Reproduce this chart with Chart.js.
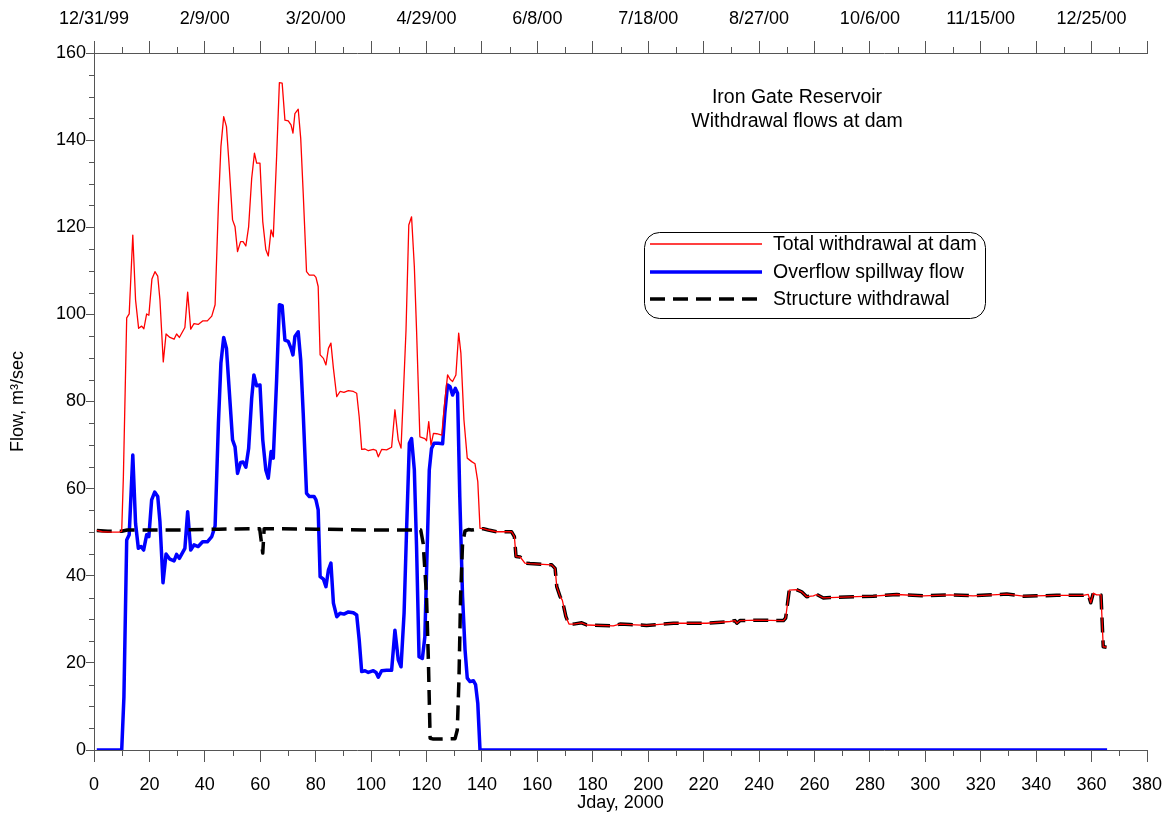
<!DOCTYPE html>
<html>
<head>
<meta charset="utf-8">
<title>Iron Gate Reservoir</title>
<script src="https://cdn.jsdelivr.net/npm/chart.js@4.4.1/dist/chart.umd.min.js"></script>
<style>
html, body { margin: 0; padding: 0; background: #fff; }
#wrap { width: 1167px; height: 822px; }
</style>
</head>
<body>
<div id="wrap"><canvas id="chart" width="1167" height="822"></canvas></div>
<script>
// Jday values (fractional where the line bends between days)
const totalDays = [1,3,6,9,10,10.6,11.8,12.7,14,15,16.1,17.2,18,19,19.8,20.9,22,23,23.8,25,26,27.4,28.9,29.8,30.8,32.8,33.8,34.9,36.1,37.6,39.2,40.9,42.5,43.7,44.9,45.8,46.8,47.8,48.8,50,50.9,51.8,52.9,53.8,54.8,55.8,56.9,57.9,58.7,59.9,60.9,62,62.9,63.9,64.7,65.9,66.9,67.9,68.9,70.1,71.1,71.8,72.5,73.7,74.6,75.5,76.7,77.7,79.4,80.1,80.9,81.6,82.8,83.7,84.6,85.5,86.4,87.6,88.8,90.2,91.8,93.6,94.8,95.7,96.6,97.8,99,100.8,101.8,102.6,103.8,105.6,107.4,108.6,109.8,110.8,111.6,112.6,113.6,114.6,115.6,116.4,117.6,119.4,120,120.8,121.6,122.5,123.7,125.5,126.4,127.6,128.5,129.4,130.6,131.6,132.4,133.5,134.7,136.3,137.5,138.5,139.3];
const totalFlow = [50.4,50.1,50.0,50.0,50.2,62.7,99.2,100.1,118.2,103.3,96.8,97.3,96.7,100.1,99.8,108.1,109.8,108.8,103.3,89.1,95.5,94.7,94.3,95.5,94.7,97.0,105.1,96.6,97.9,97.7,98.5,98.5,99.6,102.2,125.1,138.5,145.4,143.1,133.9,121.7,120.1,114.4,116.7,116.7,115.7,120.1,131.2,137.0,134.7,134.7,121.3,114.9,113.4,119.4,117.8,136.2,153.2,153.1,144.6,144.4,143.5,141.6,146.1,147.1,140.4,127.8,109.8,109.0,109.0,108.5,106.4,90.7,89.9,88.4,92.2,93.4,87.6,81.1,82.3,82.1,82.5,82.3,81.9,76.5,69.0,69.1,68.7,69.0,68.8,67.3,69.0,68.9,69.5,78.1,71.2,69.3,81.1,96.4,120.5,122.4,111.0,96.4,71.9,71.5,71.0,75.4,70.0,72.7,72.6,72.3,78.8,86.1,85.1,84.6,86.1,95.7,91.1,75.8,67.0,66.2,65.7,61.6,50.9];

// after day 140 the structure carries the whole withdrawal: both lines follow this part
const tailDays = [140.5,142.3,145.3,150.7,151.7,152.3,153.8,155.5,157.3,165.2,166.4,167,168.2,169,170.3,171.4,173,176,177.8,187.4,189.8,193.4,199.4,205.4,209.1,221.1,229.5,231.3,232,233.1,239.1,248.8,249.6,250.9,253.5,255.4,257.2,259.6,260.8,263.2,265.6,275.2,281.2,289.7,299.3,308.9,317.3,329.4,335.4,347.4,357,358.8,359.7,360.6,361.8,363.4,364.2,365.4];
const tailFlow = [50.8,50.5,50.1,50.1,49.0,44.4,44.3,42.9,42.8,42.5,41.7,37.5,35.2,34.4,30.6,28.9,28.9,29.2,28.7,28.5,28.9,28.8,28.6,28.9,29.1,29.1,29.5,29.7,29.1,29.7,29.8,29.7,30.3,36.7,36.8,36.3,35.2,35.4,35.7,34.9,35.0,35.2,35.3,35.7,35.4,35.6,35.4,35.8,35.3,35.5,35.5,35.7,33.8,36.0,35.6,35.6,23.7,23.6];

const spillDays = [1,10,10.8,11.8,12.7,14,15,16,17,17.9,19,19.8,20.8,21.9,23,23.8,24.9,26,27.4,28.9,29.8,30.8,32.8,33.8,34.9,36.1,37.6,39.2,40.9,42.5,43.7,44.9,45.8,46.8,47.8,48.8,50,50.9,51.8,52.9,53.8,54.8,55.8,56.9,57.7,58.7,59.9,60.9,62,62.9,63.9,64.7,65.9,66.9,67.9,68.9,70.1,71.1,71.8,72.5,73.7,74.6,75.5,76.7,77.7,79.4,80.1,80.9,81.6,82.8,83.7,84.6,85.5,86.4,87.6,88.8,90.2,91.8,93.6,94.8,95.7,96.6,97.8,99,100.8,101.8,102.6,103.8,105.6,107.4,108.6,109.8,110.8,111.9,112.8,113.8,114.6,115.6,116.4,117.3,118.5,119.4,120,121,121.8,122.7,124.2,125.8,126.6,127.6,128.5,129.4,130.4,131.2,132,133,133.9,134.7,135.7,136.9,137.7,138.5,139.3,365.6];
const spillFlow = [0,0,12.2,48.2,49.4,67.7,52.0,46.3,46.7,45.9,49.4,49.0,57.4,59.2,58.2,52.4,38.4,45.0,43.8,43.4,44.9,44.0,46.3,54.7,45.9,47.1,46.7,47.8,47.8,49.0,51.4,75.0,88.8,94.7,92.2,82.6,71.2,69.6,63.5,66.0,66.1,64.9,69.2,80.7,86.1,83.6,83.8,71.2,64.3,62.4,68.5,67.0,84.9,102.2,102.0,94.1,93.8,92.2,90.7,94.9,96.0,89.5,77.3,58.9,58.2,58.2,57.4,55.1,39.8,39.2,37.5,41.3,42.9,33.7,30.6,31.4,31.2,31.7,31.5,31.0,25.3,18.0,18.2,17.8,18.2,17.8,16.7,18.2,18.3,18.3,27.5,20.7,19.1,31.4,50.5,70.4,71.5,64.3,46.7,21.4,21.0,26.0,40.6,64.3,69.2,70.4,70.4,70.3,77.3,83.8,83.4,81.5,83.0,81.9,58.2,35.2,23.0,16.5,15.7,15.9,15.0,10.7,0,0];

const structDays = [1,5,10,12,30,45,59.8,60.9,61.4,80,100,117.9,118.8,120,120.7,121.3,122.5,130.3,131.1,131.7,132.3,133,133.9,135.1,136.3,139.3];
const structFlow = [50.4,50.2,50.2,50.5,50.5,50.7,50.8,45.2,50.8,50.7,50.5,50.5,47.4,35.2,19.9,2.7,2.5,2.6,4.6,16.1,35.2,47.4,50.3,50.6,50.5,50.8];

const dateLabels = ['12/31/99','2/9/00','3/20/00','4/29/00','6/8/00','7/18/00','8/27/00','10/6/00','11/15/00','12/25/00'];
const titleLines = ['Iron Gate Reservoir', 'Withdrawal flows at dam'];

const axisColor = '#555';
const FONT = "'Liberation Sans', Arial, sans-serif";

function pts(days, vals) { return days.map((d, i) => ({ x: d, y: vals[i] })); }

const totalData = pts(totalDays.concat(tailDays), totalFlow.concat(tailFlow));
const structData = pts(structDays.concat(tailDays), structFlow.concat(tailFlow));
const spillData = pts(spillDays, spillFlow);

Chart.defaults.font.family = FONT;
Chart.defaults.font.size = 18;
Chart.defaults.color = '#000';

// short in-between ticks that Chart.js does not draw itself
const minorTicks = {
    id: 'minorTicks',
    afterDraw(chart) {
        const ctx = chart.ctx;
        const x = chart.scales.x, x2 = chart.scales.x2, y = chart.scales.y;
        ctx.save();
        ctx.strokeStyle = axisColor;
        ctx.lineWidth = 1;
        ctx.beginPath();
        for (let v = 10; v < 380; v += 20) {
            const px = Math.round(x.getPixelForValue(v)) + 0.5;
            ctx.moveTo(px, y.bottom); ctx.lineTo(px, y.bottom + 6);
            ctx.moveTo(px, x2.bottom); ctx.lineTo(px, x2.bottom - 6);
        }
        for (let v = 5; v < 160; v += 5) {
            if (v % 20 === 0) continue;
            const py = Math.round(y.getPixelForValue(v)) + 0.5;
            ctx.moveTo(y.right, py); ctx.lineTo(y.right - 5, py);
        }
        ctx.stroke();
        ctx.restore();
    }
};

// caption and the rounded legend box
const notes = {
    id: 'notes',
    afterDraw(chart) {
        const ctx = chart.ctx;
        ctx.save();
        ctx.font = '19.5px ' + FONT;
        ctx.fillStyle = '#000';
        ctx.textAlign = 'center';
        ctx.textBaseline = 'middle';
        ctx.fillText(titleLines[0], 797, 98);
        ctx.fillText(titleLines[1], 797, 122);

        const bx = 644, by = 232, bw = 341, bh = 86, r = 15;
        ctx.beginPath();
        ctx.roundRect(bx + 0.5, by + 0.5, bw, bh, r);
        ctx.strokeStyle = '#000';
        ctx.lineWidth = 1;
        ctx.stroke();

        const rows = [244, 272, 299];
        chart.data.datasets.forEach(ds => {
            const ry = rows[ds.legendRow];
            ctx.beginPath();
            ctx.strokeStyle = ds.borderColor;
            ctx.lineWidth = ds.borderWidth;
            ctx.setLineDash(ds.borderDash || []);
            ctx.moveTo(650, ry);
            ctx.lineTo(762, ry);
            ctx.stroke();
            ctx.setLineDash([]);
            ctx.textAlign = 'left';
            ctx.fillText(ds.label, 773, ry + 1);
        });
        ctx.restore();
    }
};

function fixHorizontal(h) {
    return s => { s.height = h; s.paddingLeft = 0; s.paddingRight = 0; };
}

new Chart(document.getElementById('chart'), {
    type: 'line',
    data: {
        datasets: [
            { label: 'Total withdrawal at dam', data: totalData, borderColor: '#ff0000', borderWidth: 1.3, legendRow: 0, order: 0 },
            { label: 'Structure withdrawal', data: structData, borderColor: '#000000', borderWidth: 3.5, borderDash: [15, 8], legendRow: 2, order: 1 },
            { label: 'Overflow spillway flow', data: spillData, borderColor: '#0000ff', borderWidth: 3.5, legendRow: 1, order: 2 }
        ]
    },
    options: {
        responsive: false,
        animation: false,
        devicePixelRatio: 1,
        elements: { point: { radius: 0 }, line: { tension: 0, fill: false, borderJoinStyle: 'round' } },
        layout: { padding: { left: 0, right: 20, top: 0, bottom: 0 } },
        plugins: { legend: { display: false }, tooltip: { enabled: false } },
        scales: {
            x: {
                type: 'linear', position: 'bottom', min: 0, max: 380,
                afterFit: fixHorizontal(72),
                border: { color: axisColor, width: 1 },
                grid: { drawOnChartArea: false, drawTicks: true, tickLength: 12, tickColor: axisColor },
                ticks: { stepSize: 20, autoSkip: false, maxRotation: 0, padding: 12 },
                title: { display: true, text: 'Jday, 2000', padding: { top: 0, bottom: 8 } }
            },
            x2: {
                type: 'linear', position: 'top', min: 0, max: 380,
                afterFit: fixHorizontal(53),
                border: { color: axisColor, width: 1 },
                grid: { drawOnChartArea: false, drawTicks: true, tickLength: 12, tickColor: axisColor },
                ticks: {
                    stepSize: 20, autoSkip: false, maxRotation: 0, padding: 11,
                    callback: v => (v % 40 === 0 ? dateLabels[v / 40] : '')
                }
            },
            y: {
                type: 'linear', position: 'left', min: 0, max: 160,
                afterFit(s) { s.width = 94; s.paddingTop = 0; s.paddingBottom = 0; },
                border: { color: axisColor, width: 1 },
                grid: { drawOnChartArea: false, drawTicks: true, tickLength: 8, tickColor: axisColor },
                ticks: { stepSize: 20, padding: 0 },
                title: { display: true, text: 'Flow, m³/sec', padding: { top: 7, bottom: 0 } }
            }
        }
    },
    plugins: [minorTicks, notes]
});
</script>
</body>
</html>
